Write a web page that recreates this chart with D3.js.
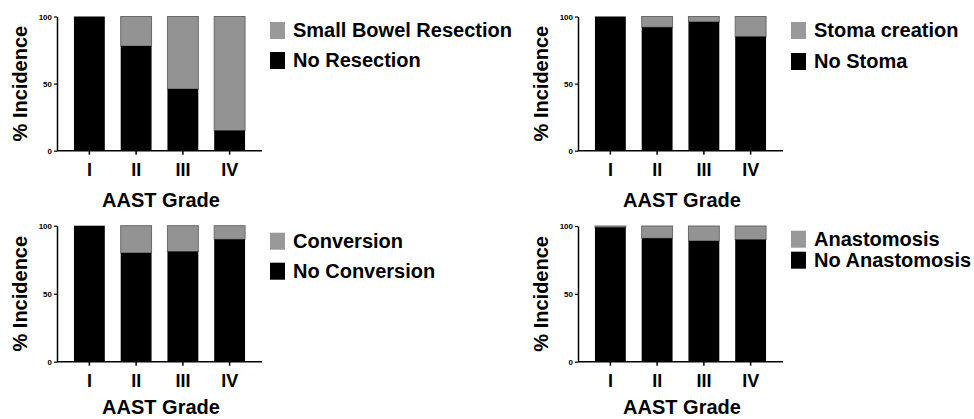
<!DOCTYPE html>
<html>
<head>
<meta charset="utf-8">
<script src="https://cdn.jsdelivr.net/npm/d3@7"></script>
<style>
  body { margin: 0; background: #fff; }
  svg { display: block; font-family: "Liberation Sans", Arial, sans-serif; font-weight: bold; }
</style>
</head>
<body>
<div id="chart"></div>
<script>
const grades = ['I', 'II', 'III', 'IV'];
const yTicks = [0, 50, 100];

// % without the event (black part); the grey part is the rest up to 100
const noResection = [100, 78, 46, 15];
const noStoma = [100, 92, 96, 85];
const noConversion = [100, 80, 81, 90];
const noAnastomosis = [99, 91, 89, 90];

const panels = [
    { x: 57, top: 16.5, bottom: 150.7, values: noResection, labels: ['Small Bowel Resection', 'No Resection'], legTop: 5.5, legGap: 30 },
    { x: 578, top: 16.5, bottom: 150.7, values: noStoma, labels: ['Stoma creation', 'No Stoma'], legTop: 5.5, legGap: 31 },
    { x: 57, top: 225.7, bottom: 361.7, values: noConversion, labels: ['Conversion', 'No Conversion'], legTop: 7, legGap: 30 },
    { x: 578, top: 226, bottom: 361.7, values: noAnastomosis, labels: ['Anastomosis', 'No Anastomosis'], legTop: 4.7, legGap: 21 }
];

const w = 974, h = 419;
const grey = '#939393';
const svg = d3.select('#chart').append('svg').attr('width', w).attr('height', h);

panels.forEach(p => {
    const g = svg.append('g');
    const xScale = d3.scaleBand().domain(grades).range([p.x + 9, p.x + 196]).paddingInner(0.34).paddingOuter(0.17);
    const yScale = d3.scaleLinear().domain([0, 100]).range([p.bottom, p.top]);

    // grey part (event)
    g.selectAll('rect.ev')
        .data(p.values.map((v, i) => [grades[i], v]).filter(d => d[1] < 100))
        .enter().append('rect')
        .attr('x', d => xScale(d[0]))
        .attr('y', yScale(100))
        .attr('width', xScale.bandwidth())
        .attr('height', d => yScale(d[1]) - yScale(100))
        .attr('fill', grey)
        .attr('stroke', '#6a6a6a')
        .attr('stroke-width', 1);

    // black part (no event)
    g.selectAll('rect.no')
        .data(p.values.map((v, i) => [grades[i], v]))
        .enter().append('rect')
        .attr('x', d => xScale(d[0]))
        .attr('y', d => yScale(d[1]))
        .attr('width', xScale.bandwidth())
        .attr('height', d => p.bottom - yScale(d[1]))
        .attr('fill', '#000');

    const yAxis = d3.axisLeft(yScale).tickValues(yTicks).tickSize(3).tickSizeOuter(0);
    const ya = g.append('g').attr('transform', 'translate(' + p.x + ',0)').call(yAxis);
    ya.select('.domain').attr('stroke-width', 1.5);
    ya.selectAll('.tick line').attr('stroke-width', 1.2);
    ya.selectAll('.tick text').attr('font-size', 8).attr('font-weight', 'bold').attr('font-family', 'Liberation Sans, Arial, sans-serif').attr('x', -5);

    const xAxis = d3.axisBottom(xScale).tickSize(4).tickSizeOuter(0);
    const xa = g.append('g').attr('transform', 'translate(0,' + p.bottom + ')').call(xAxis);
    xa.select('.domain').remove();
    xa.selectAll('.tick line').attr('stroke-width', 1.5);
    xa.selectAll('.tick text').attr('font-size', 18).attr('font-weight', 'bold')
        .attr('font-family', 'Liberation Sans, Arial, sans-serif').attr('dy', 0).attr('y', 25);
    g.append('line')
        .attr('x1', p.x).attr('x2', p.x + 205)
        .attr('y1', p.bottom).attr('y2', p.bottom)
        .attr('stroke', '#000').attr('stroke-width', 1.5);

    g.append('text')
        .attr('x', p.x + 104).attr('y', Math.min(p.bottom + 56, h - 5))
        .attr('text-anchor', 'middle').attr('font-size', 20)
        .text('AAST Grade');

    g.append('text')
        .attr('transform', 'translate(' + (p.x - 37) + ',' + ((p.top + p.bottom) / 2) + ') rotate(-90)')
        .attr('text-anchor', 'middle').attr('dominant-baseline', 'central').attr('font-size', 20)
        .text('% Incidence');

    const legend = g.selectAll('g.leg')
        .data(p.labels)
        .enter().append('g')
        .attr('transform', (d, i) => 'translate(' + (p.x + 213) + ',' + (p.top + p.legTop + i * p.legGap) + ')');
    legend.append('rect').attr('width', 15).attr('height', 17).attr('fill', (d, i) => i === 0 ? '#999' : '#000');
    legend.append('text').attr('x', 23).attr('y', 15).attr('font-size', 20).text(d => d);
});
</script>
</body>
</html>
